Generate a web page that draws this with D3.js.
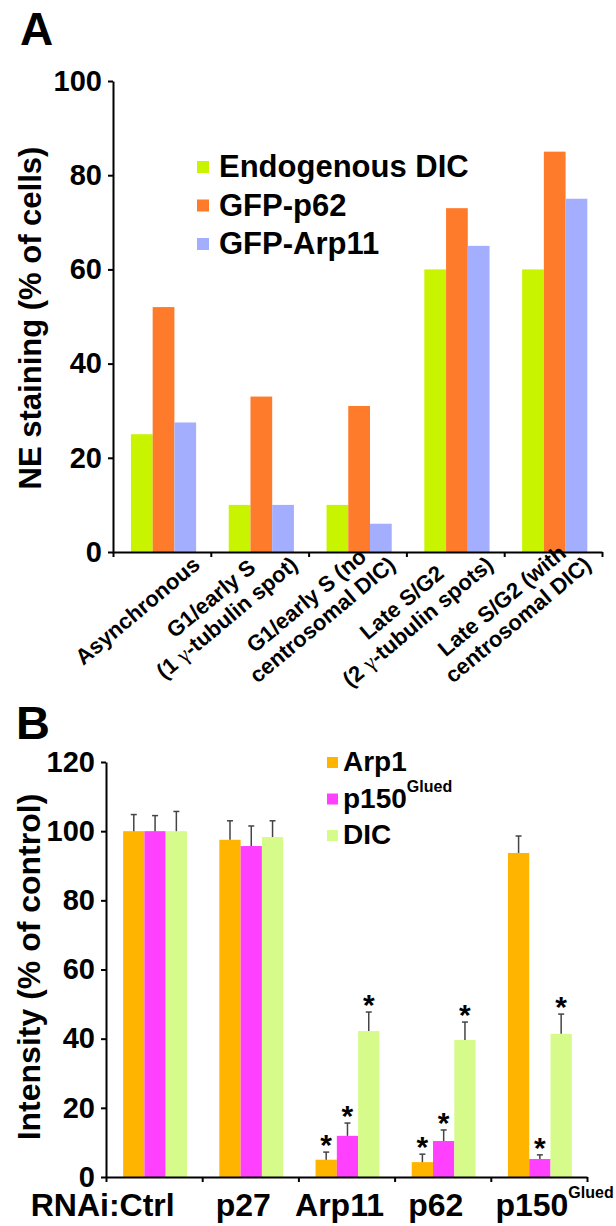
<!DOCTYPE html>
<html>
<head>
<meta charset="utf-8">
<script src="https://cdn.jsdelivr.net/npm/d3@7"></script>
<style>
  body { margin: 0; background: #fff; }
  svg text { font-family: "Liberation Sans", Arial, Helvetica, sans-serif; font-weight: bold; fill: #000; }
</style>
</head>
<body>
<script>
// ---- panel A data ----
var phasesA = ["Asynchronous", "G1/early S 1", "G1/early S no", "Late S/G2 2", "Late S/G2 with"];
var phaseLinesA = [
  ["Asynchronous"],
  ["G1/early S", "(1 γ-tubulin spot)"],
  ["G1/early S (no", "centrosomal DIC)"],
  ["Late S/G2", "(2 γ-tubulin spots)"],
  ["Late S/G2 (with", "centrosomal DIC)"]
];
var seriesA = ["Endogenous DIC", "GFP-p62", "GFP-Arp11"];
var dicA = [25, 10, 10, 60, 60];
var p62A = [52, 33, 31, 73, 85];
var arp11A = [27.5, 10, 6, 65, 75];
var ticksA = [0, 20, 40, 60, 80, 100];
var colorsA = ["#c8f400", "#ff7b2c", "#a4aeff"];

// ---- panel B data ----
var rnaiB = ["Ctrl", "p27", "Arp11", "p62", "p150"];
var seriesB = ["Arp1", "p150", "DIC"];
var arp1B = [100, 97.5, 5, 4.3, 93.7];
var arp1ErrB = [4.8, 5.5, 2.2, 2.3, 4.9];
var p150B = [100, 95.7, 11.9, 10.4, 5.2];
var p150ErrB = [4.5, 5.8, 3.7, 3.2, 1.2];
var dicB = [100, 98.3, 42.2, 39.6, 41.4];
var dicErrB = [5.7, 4.7, 5.5, 5.2, 5.7];
var arp1StarB = [0, 0, 1, 1, 0];
var p150StarB = [0, 0, 1, 1, 1];
var dicStarB = [0, 0, 1, 1, 1];
var ticksB = [0, 20, 40, 60, 80, 100, 120];
var colorsB = ["#ffb400", "#ff40ff", "#d6fb8a"];

var svg = d3.select("body").append("svg")
  .attr("width", 616)
  .attr("height", 1226);

// ================= panel A =================
var valuesA = [dicA, p62A, arp11A];
var yA = d3.scaleLinear().domain([0, 100]).range([552, 81]);
var x0A = d3.scaleBand().domain(phasesA).range([113, 602]);
var x1A = d3.scaleBand().domain(seriesA).range([0, x0A.bandwidth()]).paddingOuter(0.75).align(0.55);

svg.append("text").attr("x", 20).attr("y", 45).style("font-size", "46px").text("A");

var gA = svg.append("g");
gA.selectAll("g.grp")
  .data(phasesA)
  .enter().append("g")
  .attr("transform", function (d) { return "translate(" + x0A(d) + ",0)"; })
  .selectAll("rect")
  .data(function (d, i) { return seriesA.map(function (s, j) { return { s: s, v: valuesA[j][i], j: j }; }); })
  .enter().append("rect")
  .attr("x", function (d) { return x1A(d.s); })
  .attr("y", function (d) { return yA(d.v); })
  .attr("width", x1A.bandwidth())
  .attr("height", function (d) { return yA(0) - yA(d.v); })
  .style("fill", function (d) { return colorsA[d.j]; });

var yAxisA = svg.append("g").attr("transform", "translate(113,0)")
  .call(d3.axisLeft(yA).tickValues(ticksA).tickSize(5).tickSizeOuter(0).tickPadding(6));
yAxisA.selectAll("text").style("font-size", "29px").style("font-family", null);

var xbA = d3.scaleLinear().domain([0, phasesA.length]).range([113, 602]);
var xAxisA = svg.append("g").attr("transform", "translate(0,552)")
  .call(d3.axisBottom(xbA).ticks(phasesA.length).tickFormat("").tickSize(5).tickSizeOuter(0));

[yAxisA, xAxisA].forEach(function (ax) {
  ax.select(".domain").style("stroke", "#000").style("stroke-width", 2);
  ax.selectAll(".tick line").style("stroke", "#000").style("stroke-width", 2);
});

svg.append("text")
  .attr("transform", "translate(41,318) rotate(-90)")
  .style("text-anchor", "middle")
  .style("font-size", "31px")
  .text("NE staining (% of cells)");

// rotated category labels, lines centred
var lineH = 25;
phaseLinesA.forEach(function (lines, i) {
  var cx = x0A(phasesA[i]) + x0A.bandwidth() / 2;
  var g = svg.append("g");
  var t = g.append("text").style("font-size", "22px").style("text-anchor", "middle");
  lines.forEach(function (ln, k) {
    var parts = ln.split("γ");
    parts.forEach(function (p, m) {
      var ts = t.append("tspan").text(p);
      if (m === 0) ts.attr("x", 0).attr("y", k * lineH);
      if (m < parts.length - 1) {
        t.append("tspan").text("γ")
          .style("font-family", "'Liberation Serif', serif")
          .style("font-weight", "normal");
      }
    });
  });
  var w = t.node().getBBox().width;
  var h = (lines.length - 1) * lineH + 4;
  g.attr("transform", "translate(" + (cx + 42) + "," + (yA(0) + 18) + ") rotate(-40) translate(" + (-w / 2) + "," + (-h) + ")");
});

// legend A
var legA = svg.append("g").selectAll("g")
  .data(seriesA)
  .enter().append("g")
  .attr("transform", function (d, i) { return "translate(197," + (177 + i * 38.5) + ")"; });
legA.append("rect").attr("x", 0).attr("y", -16).attr("width", 12).attr("height", 12)
  .style("fill", function (d, i) { return colorsA[i]; });
legA.append("text").attr("x", 22).attr("y", 0).style("font-size", "31px").text(function (d) { return d; });

// ================= panel B =================
var valuesB = [arp1B, p150B, dicB];
var errsB = [arp1ErrB, p150ErrB, dicErrB];
var starsB = [arp1StarB, p150StarB, dicStarB];
var yB = d3.scaleLinear().domain([0, 120]).range([1177, 762]);
var x0B = d3.scaleBand().domain(rnaiB).range([106, 587]);
var x1B = d3.scaleBand().domain(seriesB).range([0, x0B.bandwidth()]).paddingOuter(0.76).align(0.53);

svg.append("text").attr("x", 16).attr("y", 739).style("font-size", "47px").text("B");

var barsB = svg.append("g").selectAll("g")
  .data(rnaiB)
  .enter().append("g")
  .attr("transform", function (d) { return "translate(" + x0B(d) + ",0)"; })
  .selectAll("g")
  .data(function (d, i) {
    return seriesB.map(function (s, j) {
      return { s: s, v: valuesB[j][i], e: errsB[j][i], star: starsB[j][i], j: j };
    });
  })
  .enter().append("g");

barsB.append("rect")
  .attr("x", function (d) { return x1B(d.s); })
  .attr("y", function (d) { return yB(d.v); })
  .attr("width", x1B.bandwidth())
  .attr("height", function (d) { return yB(0) - yB(d.v); })
  .style("fill", function (d) { return colorsB[d.j]; });

function midB(d) { return x1B(d.s) + x1B.bandwidth() / 2; }
barsB.append("line")
  .attr("x1", midB).attr("x2", midB)
  .attr("y1", function (d) { return yB(d.v); })
  .attr("y2", function (d) { return yB(d.v + d.e); })
  .style("stroke", "#444").style("stroke-width", 1.5);
barsB.append("line")
  .attr("x1", function (d) { return midB(d) - 3; })
  .attr("x2", function (d) { return midB(d) + 3; })
  .attr("y1", function (d) { return yB(d.v + d.e); })
  .attr("y2", function (d) { return yB(d.v + d.e); })
  .style("stroke", "#444").style("stroke-width", 1.5);
// significance stars
barsB.filter(function (d) { return d.star; }).append("text")
  .attr("x", midB)
  .attr("y", function (d) { return yB(d.v + d.e) + 3; })
  .style("text-anchor", "middle")
  .style("font-size", "30px")
  .text("*");

var yAxisB = svg.append("g").attr("transform", "translate(106,0)")
  .call(d3.axisLeft(yB).tickValues(ticksB).tickSize(5).tickSizeOuter(0).tickPadding(6));
yAxisB.selectAll("text").style("font-size", "29px").style("font-family", null);

var xbB = d3.scaleLinear().domain([0, rnaiB.length]).range([106, 587]);
var xAxisB = svg.append("g").attr("transform", "translate(0,1177)")
  .call(d3.axisBottom(xbB).ticks(rnaiB.length).tickFormat("").tickSize(5).tickSizeOuter(0));

[yAxisB, xAxisB].forEach(function (ax) {
  ax.select(".domain").style("stroke", "#000").style("stroke-width", 2);
  ax.selectAll(".tick line").style("stroke", "#000").style("stroke-width", 2);
});

svg.append("text")
  .attr("transform", "translate(40,967) rotate(-90)")
  .style("text-anchor", "middle")
  .style("font-size", "32px")
  .text("Intensity (% of control)");

// x labels B: main part centred on band
rnaiB.forEach(function (d, i) {
  var cx = x0B(d) + x0B.bandwidth() / 2 - 7;
  var t = svg.append("text").attr("y", 1216).style("font-size", "32px");
  var prefix = i === 0 ? "RNAi:" : "";
  t.append("tspan").text(prefix + d);
  if (d === "p150") {
    t.append("tspan").attr("dy", -18).style("font-size", "16px").text("Glued");
  }
  var node = t.node();
  var pre = prefix ? node.getSubStringLength(0, prefix.length) : 0;
  var main = node.getSubStringLength(prefix.length, d.length);
  t.attr("x", cx - pre - main / 2);
});

// legend B
var legB = svg.append("g").selectAll("g")
  .data(seriesB)
  .enter().append("g")
  .attr("transform", function (d, i) { return "translate(327," + (771 + i * 36.5) + ")"; });
legB.append("rect").attr("x", 0).attr("y", -14).attr("width", 11).attr("height", 11)
  .style("fill", function (d, i) { return colorsB[i]; });
var legBText = legB.append("text").attr("x", 16).attr("y", 0).style("font-size", "28px");
legBText.append("tspan").text(function (d) { return d; });
legBText.filter(function (d) { return d === "p150"; })
  .append("tspan").attr("dy", -16).style("font-size", "16px").text("Glued");
</script>
</body>
</html>
